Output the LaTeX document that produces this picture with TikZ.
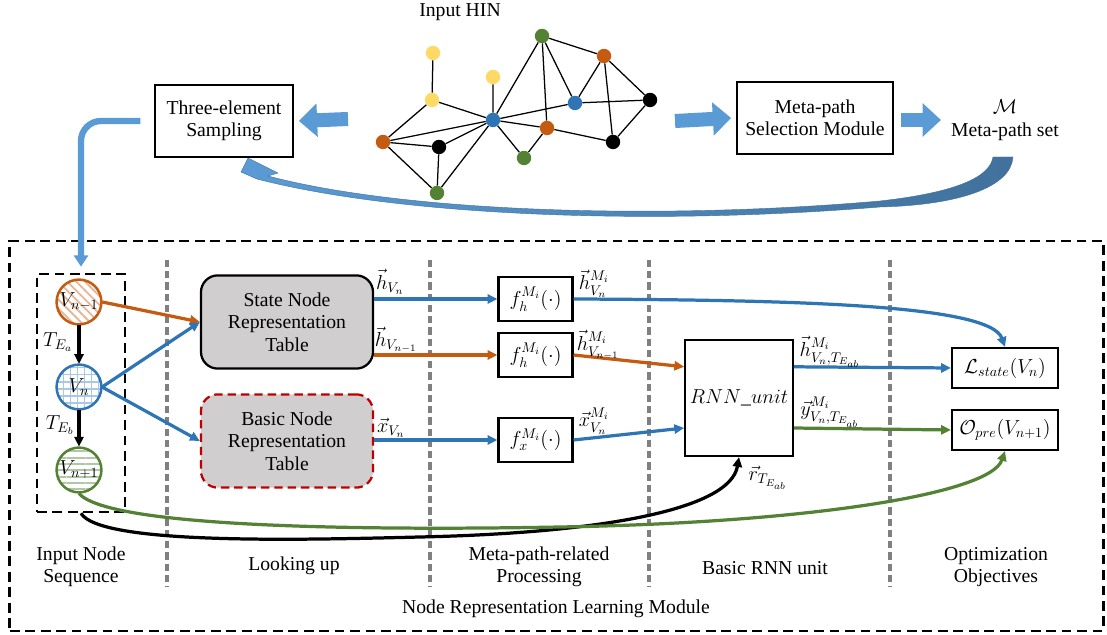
\documentclass[tikz,border=0pt]{standalone}
\usepackage{amsmath}
\usepackage{fontspec}
\setmainfont{Liberation Serif}
\usepackage{tikz}
\usetikzlibrary{arrows.meta,shapes,patterns.meta,positioning}

\definecolor{hinblue}{HTML}{2E75B6}
\definecolor{hinorange}{HTML}{C55A11}
\definecolor{hingreen}{HTML}{548235}
\definecolor{hinred}{HTML}{C00000}
\definecolor{hinyellow}{HTML}{FFD966}
\definecolor{blockfill}{HTML}{5B9BD5}
\definecolor{blockedge}{HTML}{41719C}
\definecolor{tablegray}{HTML}{D0CECE}

\tikzset{
  vtx/.style={circle, minimum size=0.36cm, inner sep=0pt},
  box/.style={draw, line width=1.5pt, align=center},
  tablebox/.style={rounded corners=0.42cm, fill=tablegray, line width=1.6pt, minimum width=4.3cm, minimum height=2.33cm, align=center},
  fbox/.style={draw, line width=1.5pt, minimum width=1.85cm, minimum height=1.1cm, inner sep=0pt},
  objbox/.style={draw, line width=1.5pt, minimum width=2.65cm, minimum height=1cm, inner sep=0pt},
  seqnode/.style={circle, line width=1.8pt, minimum size=1.12cm, inner sep=0pt},
  flow/.style={->, line width=2.3pt},
  bigarrow/.style={blockfill, line width=10pt, -{Triangle[length=13pt,width=23pt]}},
  sepline/.style={draw=gray, line width=2.5pt, dash pattern=on 5pt off 3pt},
  frame/.style={draw, line width=1.8pt, dash pattern=on 7pt off 4pt},
}

\begin{document}
\begin{tikzpicture}[x=0.025cm, y=-0.025cm, font=\fontsize{14}{16}\selectfont, >={Triangle[length=7pt,width=6.5pt]}]
\useasboundingbox (0,0) rectangle (1107,635);

% input HIN
\node (hin) at (460,12) {Input HIN};
\node (y1) [vtx, fill=hinyellow] at (433,53) {};
\node (y2) [vtx, fill=hinyellow] at (432,100) {};
\node (y3) [vtx, fill=hinyellow] at (493,77) {};
\node (b1) [vtx, fill=hinblue] at (493,120) {};
\node (b2) [vtx, fill=hinblue] at (575,103) {};
\node (g1) [vtx, fill=hingreen] at (542,36) {};
\node (g2) [vtx, fill=hingreen] at (524,158) {};
\node (g3) [vtx, fill=hingreen] at (437,193) {};
\node (o1) [vtx, fill=hinorange] at (604,56) {};
\node (o2) [vtx, fill=hinorange] at (547,128) {};
\node (o3) [vtx, fill=hinorange] at (383,142) {};
\node (k1) [vtx, fill=black] at (650,100) {};
\node (k2) [vtx, fill=black] at (613,142) {};
\node (k3) [vtx, fill=black] at (439,147) {};
\draw[line width=0.9pt] (y1) -- (y2) (y2) -- (b1) (y2) -- (o3) (o3) -- (b1) (o3) -- (k3) (o3) -- (g3)
  (k3) -- (b1) (k3) -- (g3) (g3) -- (b1) (y3) -- (b1) (b1) -- (g1) (b1) -- (b2) (b1) -- (o2) (b1) -- (g2)
  (g2) -- (o2) (o2) -- (g1) (g1) -- (b2) (g1) -- (o1) (o1) -- (b2) (o1) -- (k1) (o1) -- (k2)
  (b2) -- (k1) (k1) -- (k2) (o2) -- (k2);

% top row
\node (samp) [box, minimum width=3.43cm, minimum height=1.78cm] at (224,121) {Three-element\\Sampling};
\node (sel) [box, minimum width=3.88cm, minimum height=1.78cm] at (815,118) {Meta-path\\Selection Module};
\node (mset) [align=center] at (1005,120) {$\mathcal{M}$\\Meta-path set};
\coordinate (arrLs) at (348,119);
\coordinate (arrRs) at (675,121);
\coordinate (arrMs) at (901,120);
\draw[bigarrow] (arrLs) -- ([xshift=0.13cm]samp.east);
\draw[bigarrow] (arrRs) -- ([xshift=-0.13cm]sel.west);
\draw[bigarrow] (arrMs) -- (941,120);

% feedback from the meta-path set
\path[left color=blockfill, right color=blockedge, draw=blockedge, line width=0.3pt]
  (248,158) -- (278,173) -- (268,176) .. controls (400,211) and (650,221) .. (880,201)
  .. controls (960,192) and (990,176) .. (993,157) -- (1013,157)
  .. controls (1011,187) and (960,205) .. (880,207) .. controls (650,226) and (400,216) .. (257,179)
  -- (241,172) -- cycle;

% module frame
\node (modframe) [frame, minimum width=27.33cm, minimum height=9.75cm] at (556.5,436) {};
\node (seqframe) [frame, minimum width=2.2cm, minimum height=5.95cm] at (81,393) {};
\draw[blockfill, line width=4.5pt, rounded corners=0.5cm, -{Triangle[length=8pt,width=10pt]}, shorten <=0.35cm, shorten >=0.15cm]
  (samp.west) -| (seqframe.north);

\draw[sepline] (167,260) -- (167,587);
\draw[sepline] (430,260) -- (430,587);
\draw[sepline] (649,260) -- (649,587);
\draw[sepline] (890,260) -- (890,587);

% input node sequence
\node (vprev) [seqnode, draw=hinorange, pattern={Lines[angle=-45, distance=4.5pt, line width=1.3pt]}, pattern color=hinorange!45] at (79,302) {$V_{n-1}$};
\node (vn) [seqnode, draw=hinblue, pattern={Hatch[angle=0, distance=5pt, line width=0.9pt]}, pattern color=hinblue!40] at (79,387) {$V_n$};
\node (vnext) [seqnode, draw=hingreen, pattern={Lines[angle=0, distance=4.5pt, line width=1.4pt]}, pattern color=hingreen!45] at (79,470) {$V_{n+1}$};
\draw[flow, black] (vprev) -- (vn);
\draw[flow, black] (vn) -- (vnext);
\node (tea) at (58,342) {$T_{E_a}$};
\node (teb) at (60,425) {$T_{E_b}$};

% looking up
\node (state) [tablebox, draw=black] at (287,322) {State Node\\Representation\\Table};
\node (basic) [tablebox, draw=hinred, dash pattern=on 6pt off 3.5pt] at (287,441) {Basic Node\\Representation\\Table};
\draw[flow, hinorange] (vprev.east) -- (state.west);
\draw[flow, hinblue] (vn.east) -- (state.west);
\draw[flow, hinblue] (vn.east) -- (basic.west);

% meta-path-related processing
\node (fh1) [fbox] at (535.5,299) {$f_h^{M_i}(\cdot)$};
\node (fh2) [fbox] at (535.5,355) {$f_h^{M_i}(\cdot)$};
\node (fx) [fbox] at (535.5,440) {$f_x^{M_i}(\cdot)$};
\draw[flow, hinblue] (state.east |- fh1) -- (fh1);
\draw[flow, hinorange] (state.east |- fh2) -- (fh2);
\draw[flow, hinblue] (basic.east |- fx) -- (fx);
\node (lhv) at (390,282) {$\vec{h}_{V_n}$};
\node (lhvp) at (396,340) {$\vec{h}_{V_{n-1}}$};
\node (lxv) at (391,428) {$\vec{x}_{V_n}$};

% basic RNN unit
\node (rnn) [box, minimum width=2.53cm, minimum height=2.9cm] at (739,398) {$RNN\_unit$};
\draw[flow, hinorange] (fh2.east) -- ([yshift=0.78cm]rnn.west);
\draw[flow, hinblue] (fx.east) -- ([yshift=-0.75cm]rnn.west);
\node (lhm) at (594,284) {$\vec{h}^{M_i}_{V_n}$};
\node (lhmp) at (598,345) {$\vec{h}^{M_i}_{V_{n-1}}$};
\node (lxm) at (594,421) {$\vec{x}^{M_i}_{V_n}$};

% optimization objectives
\node (lstate) [objbox] at (1005,368) {$\mathcal{L}_{state}(V_n)$};
\node (opre) [objbox] at (1005,430) {$\mathcal{O}_{pre}(V_{n+1})$};
\draw[flow, hinblue] (fh1.east) .. controls (800,300) and (990,305) .. (lstate.north);
\draw[flow, hinblue] ([yshift=0.78cm]rnn.east) -- (lstate.west);
\draw[flow, hingreen] ([yshift=-0.75cm]rnn.east) -- (opre.west);
\node (lho) at (830,352) {$\vec{h}^{M_i}_{V_n,T_{E_{ab}}}$};
\node (lyo) at (830,412) {$\vec{y}^{M_i}_{V_n,T_{E_{ab}}}$};

% long connectors
\draw[flow, black] (seqframe.south) .. controls (100,545) and (300,540) .. (420,537)
  .. controls (600,533) and (730,510) .. (rnn.south);
\draw[flow, hingreen] (vnext.south) .. controls (110,530) and (400,530) .. (560,527)
  .. controls (800,523) and (990,495) .. (opre.south);
\node (lr) at (768,478) {$\vec{r}_{T_{E_{ab}}}$};

% column titles
\node (c1) [align=center] at (81,567) {Input Node\\Sequence};
\node (c2) at (294,566) {Looking up};
\node (c3) [align=center] at (539,567) {Meta-path-related\\Processing};
\node (c4) at (765,568) {Basic RNN unit};
\node (c5) [align=center] at (996,567) {Optimization\\Objectives};
\node (c6) at (556,609) {Node Representation Learning Module};
\end{tikzpicture}
\end{document}
